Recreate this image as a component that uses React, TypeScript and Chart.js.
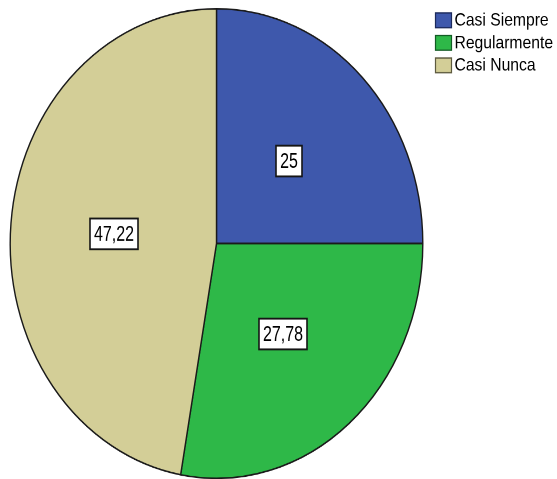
import React, { useEffect, useRef } from 'react';
import { Chart, registerables } from 'chart.js';

Chart.register(...registerables);

const categories = ['Casi Siempre', 'Regularmente', 'Casi Nunca'];
const values = [25, 27.78, 47.22];
const valueLabels = ['25', '27,78', '47,22'];
const colors = ['#3E58AC', '#2EB848', '#D3CE97'];
const legendBorders = ['#1c2a5c', '#135c25', '#5e5b40'];

const W = 557;
const H = 479;
const SY = 1.138;
const CH = Math.round(H / SY);

const overlay = {
  id: 'overlay',
  afterDatasetsDraw(chart: any) {
    const ctx = chart.ctx as CanvasRenderingContext2D;
    const meta = chart.getDatasetMeta(0);
    ctx.save();
    ctx.font = '16px "Liberation Sans", Arial, sans-serif';
    ctx.textAlign = 'center';
    ctx.textBaseline = 'middle';
    meta.data.forEach((arc: any, i: number) => {
      const p = arc.getCenterPoint();
      const text = valueLabels[i];
      const tw = ctx.measureText(text).width;
      const bw = Math.round(tw + 8);
      const bh = 27;
      const x = Math.round(p.x - bw / 2);
      const y = Math.round(p.y - bh / 2);
      ctx.fillStyle = '#ffffff';
      ctx.fillRect(x, y, bw, bh);
      ctx.lineWidth = 1.6;
      ctx.strokeStyle = '#151515';
      ctx.strokeRect(x, y, bw, bh);
      ctx.fillStyle = '#000000';
      ctx.save();
      ctx.translate(x + bw / 2, y + bh / 2 + 1);
      ctx.scale(1, 1.15);
      ctx.fillText(text, 0, 0);
      ctx.restore();
    });
    // legend
    ctx.font = '15.7px "Liberation Sans", Arial, sans-serif';
    ctx.textAlign = 'left';
    categories.forEach((c, i) => {
      const cy = 17.8 + i * 19.8;
      ctx.fillStyle = colors[i];
      ctx.fillRect(435.5, cy - 6.5, 16, 13);
      ctx.lineWidth = 1.2;
      ctx.strokeStyle = legendBorders[i];
      ctx.strokeRect(435.5, cy - 6.5, 16, 13);
      ctx.fillStyle = '#000000';
      ctx.fillText(c, 454.5, cy + 0.5);
    });
    ctx.restore();
  },
};

export default function App() {
  const ref = useRef<HTMLCanvasElement | null>(null);
  useEffect(() => {
    if (!ref.current) return;
    const chart = new Chart(ref.current, {
      type: 'pie',
      data: {
        labels: categories,
        datasets: [
          {
            data: values,
            backgroundColor: colors,
            borderColor: '#1a1a1a',
            borderWidth: 1.4,
          },
        ],
      },
      options: {
        responsive: false,
        animation: false,
        devicePixelRatio: 2,
        layout: { padding: { left: 9, right: W - 424, top: 7, bottom: 0 } },
        plugins: {
          legend: { display: false },
          tooltip: { enabled: false },
          title: { display: false },
        },
      },
      plugins: [overlay],
    } as any);
    return () => chart.destroy();
  }, []);
  return (
    <div
      style={{
        position: 'fixed',
        left: 0,
        top: 0,
        width: W,
        height: H,
        background: '#ffffff',
        overflow: 'hidden',
      }}
    >
      <div style={{ transform: `scaleY(${SY})`, transformOrigin: '0 0', width: W, height: CH }}>
        <canvas ref={ref} width={W} height={CH} />
      </div>
    </div>
  );
}
